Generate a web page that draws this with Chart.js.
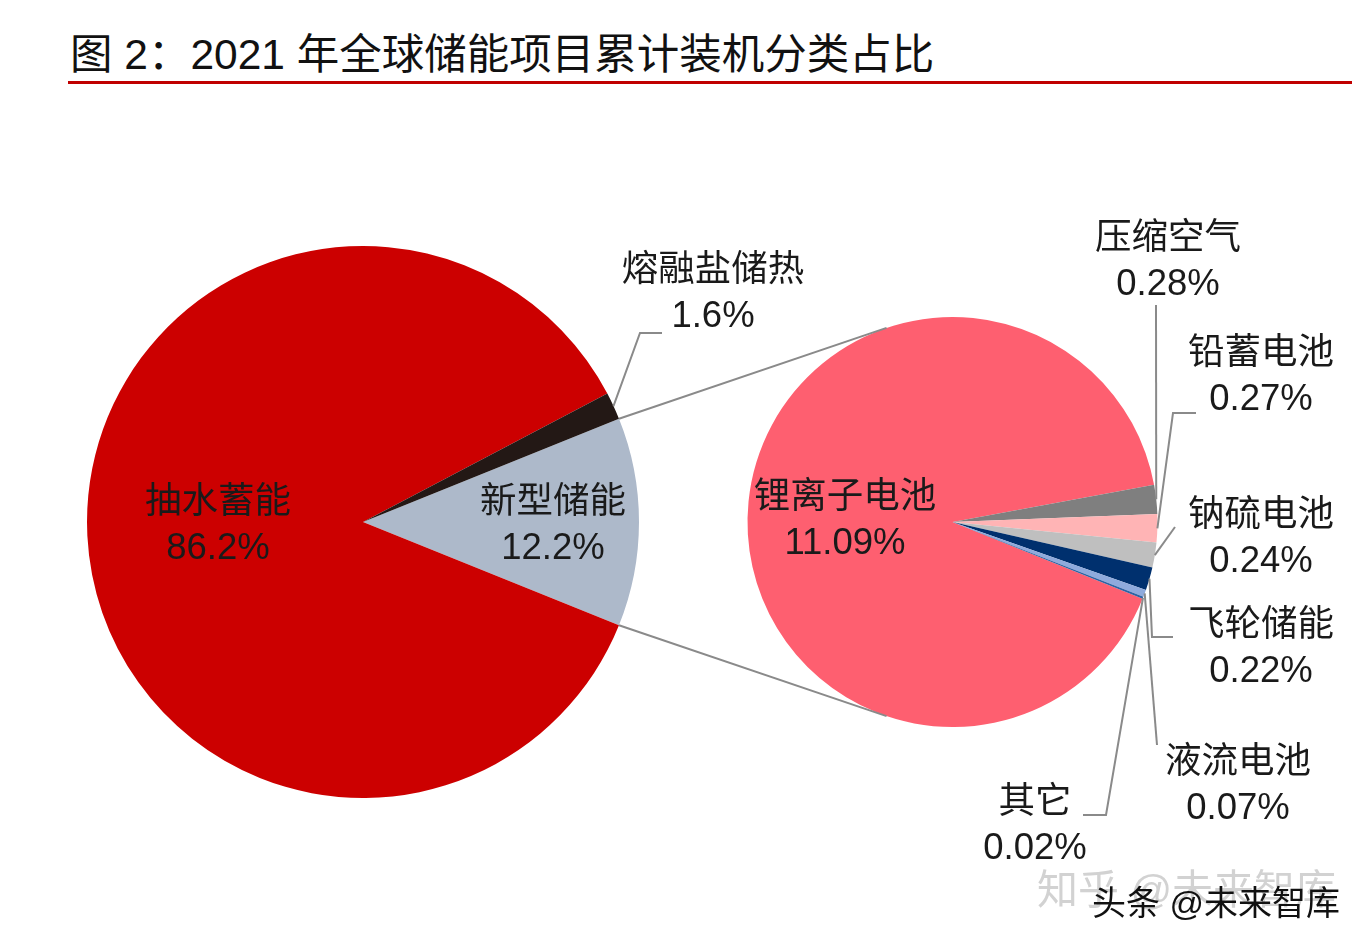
<!DOCTYPE html>
<html>
<head>
<meta charset="utf-8">
<script src="https://cdn.jsdelivr.net/npm/chart.js@4.4.0/dist/chart.umd.min.js"></script>
<style>
body { margin: 0; background: #fff; }
#wrap { position: relative; width: 1370px; height: 948px; overflow: hidden; background: #fff; }
canvas { position: absolute; left: 0; top: 0; }
#title { position: absolute; left: 70px; top: 31px; font: 42.5px "Liberation Sans", "Noto Sans CJK SC", sans-serif; color: #111; line-height: 48px; white-space: nowrap; }
#rule { position: absolute; left: 68px; top: 81px; width: 1284px; height: 3px; background: #c00000; }
.wm { position: absolute; white-space: nowrap; font-family: "Liberation Sans", "Noto Sans CJK SC", sans-serif; line-height: 1; }
</style>
</head>
<body>
<div id="wrap">
  <div id="title">图 2：2021 年全球储能项目累计装机分类占比</div>
  <div id="rule"></div>
  <canvas id="mainPie" width="1370" height="948"></canvas>
  <canvas id="subPie" width="1370" height="948"></canvas>
  <div class="wm" style="left:1037px;top:870px;font-size:41px;color:#d2d2d2">知乎 @未来智库</div>
  <div class="wm" style="left:1092px;top:886px;font-size:34px;color:#111">头条 @未来智库</div>
</div>
<script>
// left pie: whole market
const mainLabels = ['新型储能', '抽水蓄能', '熔融盐储热'];
const mainValues = [12.2, 86.2, 1.6];

// right pie: split of 新型储能
const subLabels = ['锂离子电池', '压缩空气', '铅蓄电池', '钠硫电池', '飞轮储能', '液流电池', '其它'];
const subValues = [11.09, 0.28, 0.27, 0.24, 0.22, 0.07, 0.02];

let color_main = ['#adb9ca', '#cc0000', '#231815'];
let color_sub = ['#fe5f70', '#7f7f7f', '#ffb4b5', '#bfbfbf', '#00306e', '#8faadc', '#2f62a3'];

let labelFont = '36.5px "Liberation Sans", "Noto Sans CJK SC", sans-serif';
let textColor = '#1a1a1a';
let lineColor = '#8a8a8a';

// where each label sits (centre of the name line)
let mainText = [{ i: 1, x: 218, y: 503 }, { i: 0, x: 553, y: 503 }, { i: 2, x: 713, y: 271 }];
let subText = [
    { i: 0, x: 845, y: 498 },
    { i: 1, x: 1168, y: 239 },
    { i: 2, x: 1261, y: 354 },
    { i: 3, x: 1261, y: 516 },
    { i: 4, x: 1261, y: 626 },
    { i: 5, x: 1238, y: 763 },
    { i: 6, x: 1035, y: 803 }
];

// leader line bends, starting from the slice edge
let mainLeaders = { 2: [[640, 333], [662, 333]] };
let subLeaders = {
    1: [[1156, 305]],
    2: [[1173, 413], [1196, 413]],
    3: [[1175, 527]],
    4: [[1152, 637], [1173, 637]],
    5: [[1157, 745]],
    6: [[1106, 815], [1083, 815]]
};

let mainChart, subChart;

let midPoint = function (arc) {
    let a = (arc.startAngle + arc.endAngle) / 2;
    return [arc.x + Math.cos(a) * arc.outerRadius, arc.y + Math.sin(a) * arc.outerRadius];
};

let tangentPoint = function (px, py, cx, cy, r, upper) {
    let dx = px - cx, dy = py - cy;
    let d = Math.hypot(dx, dy);
    let base = Math.atan2(dy, dx), al = Math.acos(r / d);
    let t1 = [cx + r * Math.cos(base + al), cy + r * Math.sin(base + al)];
    let t2 = [cx + r * Math.cos(base - al), cy + r * Math.sin(base - al)];
    if (upper) return t1[1] < t2[1] ? t1 : t2;
    return t1[1] > t2[1] ? t1 : t2;
};

let drawLabels = function (ctx, labels, values, spots) {
    ctx.font = labelFont;
    ctx.fillStyle = textColor;
    ctx.textAlign = 'center';
    ctx.textBaseline = 'middle';
    spots.forEach(function (s) {
        ctx.fillText(labels[s.i], s.x, s.y);
        ctx.fillText(values[s.i] + '%', s.x, s.y + 46);
    });
};

let drawLeaders = function (ctx, arcs, leaders) {
    Object.keys(leaders).forEach(function (k) {
        let p = midPoint(arcs[k]);
        ctx.beginPath();
        ctx.moveTo(p[0], p[1]);
        leaders[k].forEach(function (q) { ctx.lineTo(q[0], q[1]); });
        ctx.stroke();
    });
};

let overlayPlugin = {
    id: 'overlay',
    afterDraw: function (chart) {
        if (!mainChart) return;
        let ctx = chart.ctx;
        let mainArcs = mainChart.getDatasetMeta(0).data;
        let subArcs = chart.getDatasetMeta(0).data;
        let src = mainArcs[0];
        let sub = subArcs[0];

        ctx.save();
        ctx.strokeStyle = lineColor;
        ctx.lineWidth = 2;

        // lines joining the 新型储能 slice to the second pie
        [[src.startAngle, true], [src.endAngle, false]].forEach(function (e) {
            let px = src.x + Math.cos(e[0]) * src.outerRadius;
            let py = src.y + Math.sin(e[0]) * src.outerRadius;
            let t = tangentPoint(px, py, sub.x, sub.y, sub.outerRadius, e[1]);
            ctx.beginPath();
            ctx.moveTo(px, py);
            ctx.lineTo(t[0], t[1]);
            ctx.stroke();
        });

        drawLeaders(ctx, mainArcs, mainLeaders);
        drawLeaders(ctx, subArcs, subLeaders);

        drawLabels(ctx, mainLabels, mainValues, mainText);
        drawLabels(ctx, subLabels, subValues, subText);
        ctx.restore();
    }
};

let pieOptions = function (rotation, padding) {
    return {
        responsive: false,
        animation: false,
        rotation: rotation,
        layout: { padding: padding },
        plugins: {
            legend: { display: false },
            tooltip: { enabled: false }
        },
        events: []
    };
};

let mainTotal = mainValues.reduce(function (a, b) { return a + b; }, 0);
// centre the 新型储能 slice on the right-hand side
let mainRotation = 90 - mainValues[0] / mainTotal * 360 / 2;

mainChart = new Chart(document.getElementById('mainPie').getContext('2d'), {
    type: 'pie',
    data: {
        labels: mainLabels,
        datasets: [{ data: mainValues, backgroundColor: color_main, borderWidth: 0 }]
    },
    options: pieOptions(mainRotation, { left: 87, right: 731, top: 246, bottom: 150 })
});

subChart = new Chart(document.getElementById('subPie').getContext('2d'), {
    type: 'pie',
    data: {
        labels: subLabels,
        datasets: [{ data: subValues, backgroundColor: color_sub, borderWidth: 0 }]
    },
    options: pieOptions(112, { left: 747, right: 212, top: 317, bottom: 221 }),
    plugins: [overlayPlugin]
});
</script>
</body>
</html>
